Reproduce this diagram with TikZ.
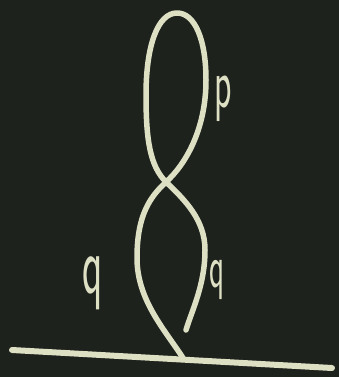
\documentclass[tikz,border=0pt]{standalone}
\usepackage{tikz}
\usetikzlibrary{calc,positioning}

\definecolor{board}{RGB}{29,34,29}
\definecolor{chalk}{RGB}{222,224,196}

\begin{document}
\begin{tikzpicture}[x=1pt,y=-1pt]
  \tikzstyle{chalkline}=[draw=chalk,line width=5.5pt,line cap=round,line join=round]
  \tikzstyle{chalklabel}=[text=chalk,font=\sffamily\fontsize{72}{72}\selectfont,inner sep=0pt,xscale=0.5]
  \fill[board] (0,0) rectangle (339,377);
  \useasboundingbox (0,0) rectangle (339,377);

  % floor line
  \coordinate (fl) at (12,350);
  \coordinate (fr) at (332,368);
  \draw[chalkline,line width=6pt] (fl) -- (fr);

  % the twisted loop
  \coordinate (foot) at (183,358);
  \coordinate (cross) at (166,182);
  \coordinate (tip) at (186,330);
  \draw[chalkline] (foot) .. controls (165,330) and (137,300) .. (137,258)
    .. controls (137,215) and (150,197) .. (cross)
    .. controls (185,165) and (206,130) .. (206,80)
    .. controls (206,40) and (195,13) .. (177,13)
    .. controls (158,13) and (146,45) .. (146,95)
    .. controls (146,140) and (150,166) .. (cross)
    .. controls (185,200) and (205,220) .. (205,250)
    .. controls (205,285) and (192,310) .. (tip);

  \node[chalklabel] (p) at (223,99) {p};
  \node[chalklabel,font=\sffamily\fontsize{84}{84}\selectfont] (ql) at (93,283) {q};
  \node[chalklabel,font=\sffamily\fontsize{62}{62}\selectfont] (qr) at (217,280) {q};
\end{tikzpicture}
\end{document}
